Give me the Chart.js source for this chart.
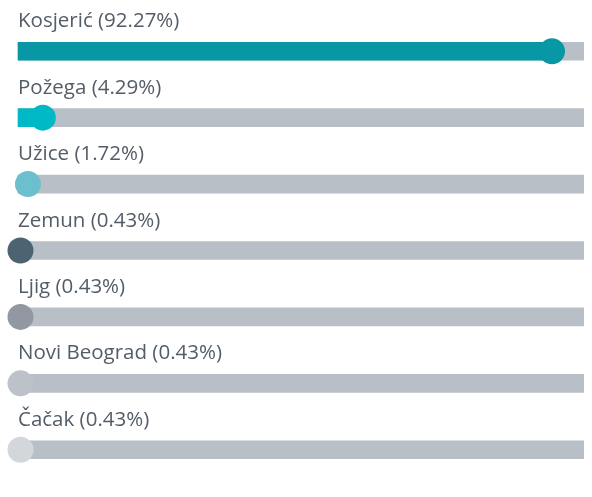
<!DOCTYPE html>
<html>
<head>
<meta charset="utf-8">
<script src="https://cdn.jsdelivr.net/npm/chart.js@4"></script>
<style>
  html, body { margin: 0; padding: 0; background: #ffffff; overflow: hidden; }
  #wrap { width: 592px; height: 497px; position: relative; }
</style>
</head>
<body>
<div id="wrap"><canvas id="c"></canvas></div>
<script>
const categories = ['Kosjerić', 'Požega', 'Užice', 'Zemun', 'Ljig', 'Novi Beograd', 'Čačak'];
const shares = [92.27, 4.29, 1.72, 0.43, 0.43, 0.43, 0.43];
const colors = ['#0897a5', '#00b9c6', '#6cbfcc', '#4c6372', '#9198a2', '#bcc2c8', '#d3d7db'];
const trackColor = '#b8bfc6';
const xMax = 97.8;
const trackValues = categories.map(() => xMax);

const labelPlugin = {
  id: 'rowLabels',
  afterDatasetsDraw(chart) {
    const ctx = chart.ctx;
    const yScale = chart.scales.y;
    ctx.save();
    ctx.font = '20.5px "Open Sans"';
    ctx.fillStyle = '#535d67';
    ctx.textBaseline = 'alphabetic';
    ctx.textAlign = 'left';
    categories.forEach((cat, i) => {
      const y = yScale.getPixelForValue(i);
      ctx.fillText(cat + ' (' + shares[i].toFixed(2) + '%)', 18, y - 24);
    });
    ctx.restore();
  }
};

new Chart(document.getElementById('c'), {
  data: {
    labels: categories,
    datasets: [
      {
        type: 'line',
        data: shares,
        showLine: false,
        pointRadius: 13,
        pointHoverRadius: 13,
        pointBackgroundColor: colors,
        pointBorderWidth: 0,
        order: 1,
        clip: false
      },
      {
        type: 'bar',
        data: shares,
        backgroundColor: colors,
        barThickness: 18,
        grouped: false,
        order: 2,
        clip: false
      },
      {
        type: 'bar',
        data: trackValues,
        backgroundColor: trackColor,
        barThickness: 18,
        grouped: false,
        order: 3
      }
    ]
  },
  options: {
    indexAxis: 'y',
    responsive: true,
    maintainAspectRatio: false,
    animation: false,
    layout: { autoPadding: false, padding: { left: 18, right: 8, top: 18, bottom: 14 } },
    plugins: { legend: { display: false }, tooltip: { enabled: false } },
    scales: {
      x: { display: false, min: 0, max: xMax },
      y: { display: false, offset: true, grid: { display: false } }
    }
  },
  plugins: [labelPlugin]
});
</script>
</body>
</html>
